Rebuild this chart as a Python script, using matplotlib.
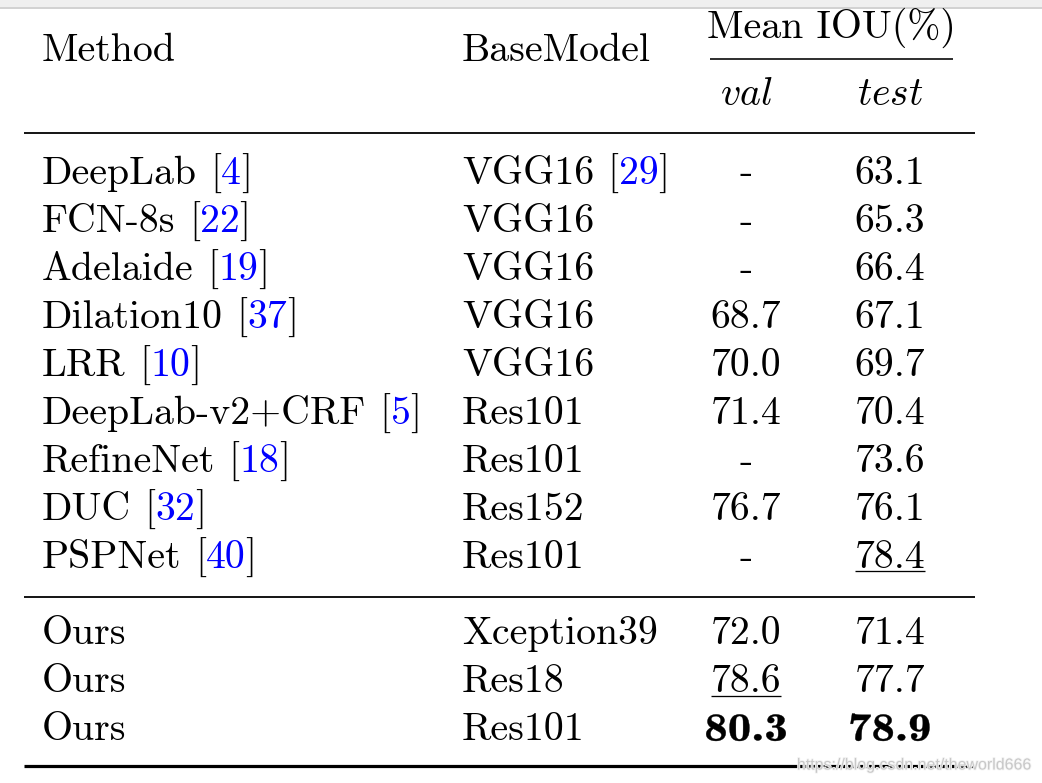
"""Mean IoU comparison table (Cityscapes-style), redrawn with matplotlib text and rules."""

import matplotlib

matplotlib.use("Agg")
import matplotlib.pyplot as plt
import matplotlib.patheffects as pe
from matplotlib.font_manager import FontProperties
from matplotlib.patches import PathPatch
from matplotlib.textpath import TextPath
from matplotlib.transforms import Affine2D

plt.rcParams["mathtext.fontset"] = "cm"
plt.rcParams["axes.unicode_minus"] = False

methods = ["DeepLab", "FCN-8s", "Adelaide", "Dilation10", "LRR", "DeepLab-v2+CRF",
           "RefineNet", "DUC", "PSPNet", "Ours", "Ours", "Ours"]
method_refs = ["4", "22", "19", "37", "10", "5", "18", "32", "40", "", "", ""]
base_models = ["VGG16", "VGG16", "VGG16", "VGG16", "VGG16", "Res101",
               "Res101", "Res152", "Res101", "Xception39", "Res18", "Res101"]
base_refs = ["29", "", "", "", "", "", "", "", "", "", "", ""]
val_miou = [None, None, None, 68.7, 70.0, 71.4, None, 76.7, None, 72.0, 78.6, 80.3]
test_miou = [63.1, 65.3, 66.4, 67.1, 69.7, 70.4, 73.6, 76.1, 78.4, 71.4, 77.7, 78.9]
N_PRIOR = 9  # rows above the "Ours" block

W, H = 1042, 783
FS = 28.7
FS_PX = FS * 100 / 72
BLUE = "#0000ff"
PX = 0.72  # one pixel in points at dpi 100
BOLD_STRETCH = 1.18  # cmb10 is narrower than LaTeX's cmbx10

fig = plt.figure(figsize=(W / 100, H / 100), dpi=100)
ax = fig.add_axes([0, 0, 1, 1])
ax.set_xlim(0, W)
ax.set_ylim(H, 0)
ax.axis("off")
renderer = fig.canvas.get_renderer()


def width_of(txt, **kw):
    t = ax.text(0, 0, txt, fontsize=FS, **kw)
    bb = t.get_window_extent(renderer)
    t.remove()
    return bb.width


SPACE = width_of("a a", family="cmr10") - width_of("aa", family="cmr10")


def put(x, y, txt, **kw):
    t = ax.text(x, y, txt, fontsize=FS, va="baseline", **kw)
    return t.get_window_extent(renderer).width


def cited(x, y, name, ref):
    x += put(x, y, name, family="cmr10", color="black")
    if ref:
        x += SPACE
        x += put(x, y, "[", family="cmr10", color="black")
        x += put(x, y, ref, family="cmr10", color=BLUE)
        put(x, y, "]", family="cmr10", color="black")


def bold_centered(xc, y, txt):
    path = TextPath((0, 0), txt, size=FS_PX, prop=FontProperties(family="cmb10"))
    ext = path.get_extents()
    mid = (ext.x0 + ext.x1) / 2
    tr = Affine2D().translate(-mid, 0).scale(BOLD_STRETCH, -1).translate(xc, y)
    ax.add_patch(PathPatch(tr.transform_path(path), facecolor="black",
                           edgecolor="black", lw=0.4 * PX))


def value(xc, y, v, bold=False, underline=False):
    txt = "-" if v is None else f"{v:.1f}"
    if bold:
        bold_centered(xc, y, txt)
        return
    t = ax.text(xc, y, txt, fontsize=FS, va="baseline", ha="center", family="cmr10")
    if underline:
        bb = t.get_window_extent(renderer)
        ax.plot([bb.x0, bb.x1], [y + 3, y + 3], color="black", lw=1.3 * PX,
                solid_capstyle="butt")


# browser strip at the very top
ax.axhspan(0, 7, color="#efefef", lw=0)
ax.axhline(7.5, color="#c4c4c4", lw=1.5 * PX)

# header
X_METHOD, X_BASE, X_VAL, X_TEST = 42, 462, 746, 890
put(X_METHOD, 61, "Method", family="cmr10")
put(X_BASE, 61, "BaseModel", family="cmr10")
ax.text(831, 37.5, "Mean IOU(%)", fontsize=FS, va="baseline", ha="center", family="cmr10")
ax.plot([710, 953], [59, 59], color="black", lw=1.6 * PX, solid_capstyle="butt")
ax.text(X_VAL, 105, r"$\mathit{val}$", fontsize=FS, va="baseline", ha="center")
ax.text(X_TEST, 105, r"$\mathit{test}$", fontsize=FS, va="baseline", ha="center")

# rules
ax.plot([24, 975], [133, 133], color="black", lw=1.8 * PX, solid_capstyle="butt")
ax.plot([24, 975], [597, 597], color="black", lw=1.8 * PX, solid_capstyle="butt")
ax.plot([24, 975], [766, 766], color="black", lw=3.2 * PX, solid_capstyle="butt")

# best -> bold, second best -> underlined
vals = sorted({v for v in val_miou if v is not None}, reverse=True)
tests = sorted(test_miou, reverse=True)

for i in range(len(methods)):
    if i < N_PRIOR:
        y = 183.5 + i * 48.1
    else:
        y = 644.5 + (i - N_PRIOR) * 48
    cited(X_METHOD, y, methods[i], method_refs[i])
    cited(X_BASE, y, base_models[i], base_refs[i])
    v = val_miou[i]
    value(X_VAL, y, v, bold=v == vals[0], underline=v == vals[1])
    t = test_miou[i]
    value(X_TEST, y, t, bold=t == tests[0], underline=t == tests[1])

# watermark
ax.text(1032, 765, "https://blog.csdn.net/theworld666", fontsize=11.5, ha="right",
        va="center", family="Liberation Sans", color="#c8c8c8",
        path_effects=[pe.withStroke(linewidth=1.2, foreground="#f4f4f4")])

fig.savefig("out.png", dpi=100, facecolor="white")
